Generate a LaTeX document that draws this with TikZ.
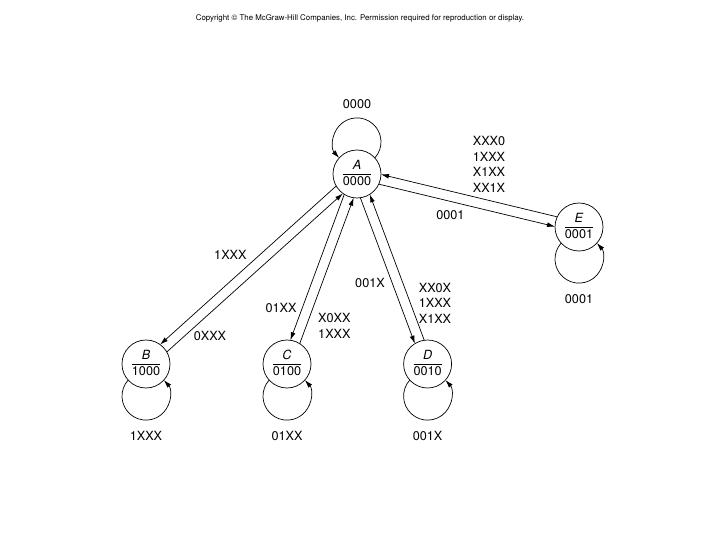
\documentclass[tikz,border=0pt]{standalone}
\usepackage{fontspec}
\setmainfont{TeX Gyre Heros}
\usepackage{tikz}
\usetikzlibrary{positioning, arrows.meta}

\newcommand{\stlabel}[2]{\begin{tabular}{@{}c@{}}\textit{#1}\\\hline #2\end{tabular}}

\begin{document}
\begin{tikzpicture}[
    font=\fontsize{9}{11}\selectfont,
    stnode/.style={
        circle,
        draw,
        line width=0.5pt,
        minimum size=1.2cm,
        inner sep=0pt,
        outer sep=0pt
    },
    lbl/.style={inner sep=1pt, align=left},
    arr/.style={-{Latex[length=2mm, width=1.2mm]}, line width=0.5pt}
]
\useasboundingbox (0,0) rectangle (18,13.5);

\node[font=\fontsize{5.6}{7}\selectfont] (copy) at (9, 13.05)
    {Copyright © The McGraw-Hill Companies, Inc. Permission required for reproduction or display.};

\node[stnode] (A) at (8.925, 9.15)  {\stlabel{A}{0000}};
\node[stnode] (B) at (3.65,  4.4)   {\stlabel{B}{1000}};
\node[stnode] (C) at (7.175, 4.4)   {\stlabel{C}{0100}};
\node[stnode] (D) at (10.69, 4.4)   {\stlabel{D}{0010}};
\node[stnode] (E) at (14.475, 7.825) {\stlabel{E}{0001}};

% self loops
\draw[arr] (A.42)   arc[start angle=-42, end angle=222, radius=0.6cm];
\draw[arr] (B.-138) arc[start angle=138, end angle=402, radius=0.6cm];
\draw[arr] (C.-138) arc[start angle=138, end angle=402, radius=0.6cm];
\draw[arr] (D.-138) arc[start angle=138, end angle=402, radius=0.6cm];
\draw[arr] (E.-138) arc[start angle=138, end angle=402, radius=0.6cm];

\node[lbl, above=1.0cm of A]  (lA) {0000};
\node[lbl, below=1.05cm of B] (lB) {1XXX};
\node[lbl, below=1.05cm of C] (lC) {01XX};
\node[lbl, below=1.05cm of D] (lD) {001X};
\node[lbl, below=1.05cm of E] (lE) {0001};

% transitions
\draw[arr] (A.210) -- (B.54);
\draw[arr] (B.30)  -- (A.234);
\draw[arr] (A.238) -- (C.82);
\draw[arr] (C.58)  -- (A.262);
\draw[arr] (A.278) -- (D.122);
\draw[arr] (D.98)  -- (A.302);
\draw[arr] (A.-25) -- (E.179);
\draw[arr] (E.155) -- (A.-1);

\node[lbl] (ab) at (5.76, 7.125)  {1XXX};
\node[lbl] (ba) at (5.25, 5.1)    {0XXX};
\node[lbl] (ac) at (7.025, 5.8)   {01XX};
\node[lbl] (ca) at (8.36, 5.35)   {X0XX\\1XXX};
\node[lbl] (ad) at (9.25, 6.425)  {001X};
\node[lbl] (da) at (10.875, 5.925) {XX0X\\1XXX\\X1XX};
\node[lbl] (ae) at (11.26, 8.125) {0001};
\node[lbl] (ea) at (12.225, 9.39) {XXX0\\1XXX\\X1XX\\XX1X};

\end{tikzpicture}
\end{document}
